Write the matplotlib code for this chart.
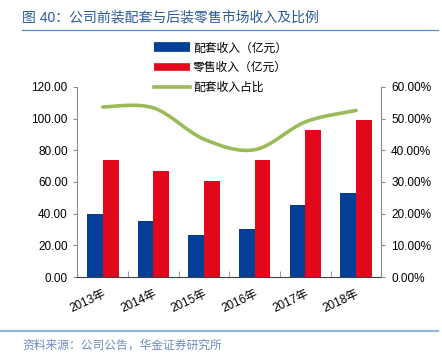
import numpy as np
import matplotlib
matplotlib.use('Agg')
import matplotlib.pyplot as plt
from matplotlib.path import Path
from matplotlib.patches import PathPatch
from matplotlib.lines import Line2D

plt.rcParams['font.family'] = ['Liberation Sans', 'Noto Sans CJK SC', 'DejaVu Sans']

# data
years = ['2013年', '2014年', '2015年', '2016年', '2017年', '2018年']
oem_rev = [40.0, 35.6, 26.5, 30.3, 45.7, 52.9]       # 配套收入（亿元）
retail_rev = [73.7, 66.7, 60.6, 73.7, 93.1, 99.4]    # 零售收入（亿元）
oem_share = [53.7, 53.4, 43.5, 40.2, 49.0, 52.6]     # 配套收入占比 (%)

BLUE = '#033F96'
RED = '#E1081B'
GREEN = '#9BBB59'
GRAY = '#8C8C8C'


def smooth_path(xs, ys):
    # excel style smoothed line as bezier path through the data points
    pts = np.column_stack([xs, ys]).astype(float)
    ext = np.vstack([pts[0], pts, pts[-1]])
    verts = [tuple(pts[0])]
    codes = [Path.MOVETO]
    for i in range(1, len(ext) - 2):
        p0, p1, p2, p3 = ext[i - 1], ext[i], ext[i + 1], ext[i + 2]
        c1 = p1 + (p2 - p0) / 6.0
        c2 = p2 - (p3 - p1) / 6.0
        verts += [tuple(c1), tuple(c2), tuple(p2)]
        codes += [Path.CURVE4] * 3
    return Path(verts, codes)


fig = plt.figure(figsize=(4.42, 3.59), dpi=100)
ax = fig.add_axes([0.1753, 0.2284, 0.6877, 0.5293])

x = np.arange(len(years))
w = 0.31
ax.bar(x - w / 2, oem_rev, w, color=BLUE, zorder=2)
ax.bar(x + w / 2, retail_rev, w, color=RED, zorder=2)

ax.set_xlim(-0.5, len(years) - 0.5)
ax.set_ylim(0, 120)
ax.set_yticks(np.arange(0, 121, 20))
ax.set_yticklabels(['%.2f' % v for v in np.arange(0, 121, 20)], fontsize=8.5)
ax.set_xticks(x)
ax.set_xticklabels(years, rotation=25, ha='right', rotation_mode='anchor', fontsize=8.5)
ax.set_xticks(np.arange(-0.5, len(years), 1), minor=True)
ax.tick_params(axis='x', which='major', length=0, pad=8)
ax.tick_params(axis='x', which='minor', direction='in', length=4, color=GRAY)
ax.tick_params(axis='y', direction='out', length=3, color=GRAY, pad=4)

for s in ['top']:
    ax.spines[s].set_visible(False)
ax.spines['left'].set_color(GRAY)
ax.spines['bottom'].set_color('#404040')
ax.spines['right'].set_visible(False)

ax2 = ax.twinx()
ax2.set_ylim(0, 60)
ax2.set_yticks(np.arange(0, 61, 10))
ax2.set_yticklabels(['%.2f%%' % v for v in np.arange(0, 61, 10)], fontsize=8.5)
ax2.tick_params(axis='y', direction='out', length=3, color=GRAY, pad=4)
ax2.spines['top'].set_visible(False)
ax2.spines['left'].set_visible(False)
ax2.spines['bottom'].set_visible(False)
ax2.spines['right'].set_color(GRAY)

line_patch = PathPatch(smooth_path(x, oem_share), facecolor='none',
                       edgecolor=GREEN, lw=2.6, capstyle='round', zorder=3)
ax2.add_patch(line_patch)

handles = [Line2D([], [], color=BLUE, lw=7, solid_capstyle='butt'),
           Line2D([], [], color=RED, lw=5.5, solid_capstyle='butt'),
           Line2D([], [], color=GREEN, lw=2.6)]
labels = ['配套收入（亿元）', '零售收入（亿元）', '配套收入占比']
fig.legend(handles, labels, loc='upper left', bbox_to_anchor=(0.33, 0.905),
           frameon=False, fontsize=8.5, handlelength=3.0, handletextpad=0.3,
           labelspacing=0.65, borderpad=0.2)

# title and footer
fig.text(0.05, 0.952, '图 40：公司前装配套与后装零售市场收入及比例', fontsize=10,
         color='#2A5C9A', va='center', ha='left')
fig.add_artist(Line2D([0.05, 0.99], [0.916, 0.916], color='#4F8FCB', lw=0.9))
fig.add_artist(Line2D([0.0, 0.99], [0.078, 0.078], color='#8DB8E0', lw=1.6))
fig.text(0.05, 0.038, '资料来源：公司公告，华金证券研究所', fontsize=8.5,
         color='#6A8CC0', va='center', ha='left', style='italic')

fig.savefig('out.png', dpi=100)
